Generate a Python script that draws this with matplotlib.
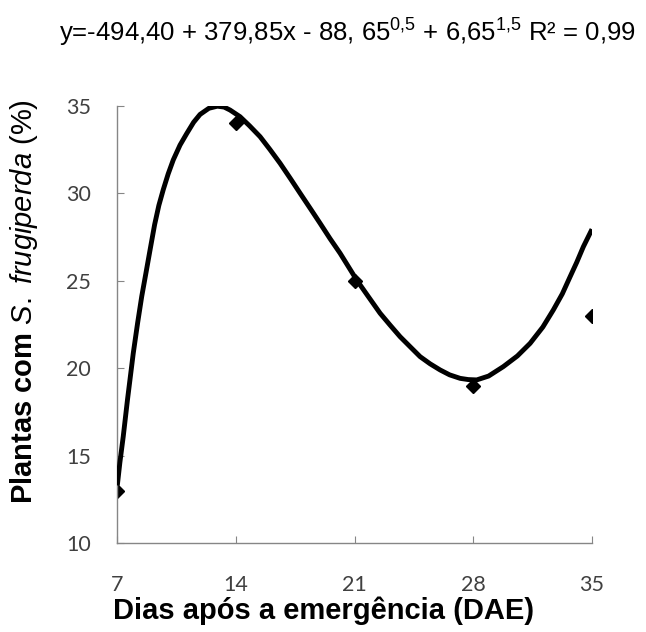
import matplotlib
matplotlib.use("Agg")
import matplotlib.pyplot as plt

plt.rcParams['mathtext.fontset'] = 'custom'
plt.rcParams['mathtext.rm'] = 'Liberation Sans'
plt.rcParams['mathtext.it'] = 'Liberation Sans:italic'
plt.rcParams['mathtext.bf'] = 'Liberation Sans:bold'

# observed points
dae = [7, 14, 21, 28, 35]
plantas = [13, 34, 25, 19, 23]

# fitted curve
curve_x = [7.0, 7.15, 7.35, 7.6, 7.94, 8.2, 8.44, 8.7, 8.93, 9.2, 9.45, 9.71, 10.0,
           10.3, 10.7, 11.09, 11.5, 11.88, 12.4, 12.9, 13.3, 13.65, 14.24, 14.8, 15.42,
           16.0, 16.6, 17.2, 17.78, 18.4, 18.96, 19.55, 20.14, 21.12, 21.8, 22.5, 23.1,
           23.68, 24.3, 24.86, 25.45, 26.04, 26.6, 27.22, 27.7, 28.2, 28.9, 29.77, 30.6,
           31.35, 32.1, 32.72, 33.25, 33.71, 34.1, 34.49, 35.0]
curve_y = [13.3, 14.6, 16.1, 18.2, 20.85, 22.6, 24.1, 25.5, 26.75, 28.2, 29.3, 30.2, 31.1,
           31.9, 32.75, 33.4, 34.05, 34.5, 34.85, 34.97, 34.92, 34.75, 34.37, 33.85, 33.23,
           32.5, 31.71, 30.85, 30.0, 29.1, 28.28, 27.4, 26.57, 25.04, 24.1, 23.14, 22.45,
           21.8, 21.2, 20.66, 20.25, 19.9, 19.62, 19.42, 19.35, 19.33, 19.55, 20.09, 20.7,
           21.42, 22.35, 23.33, 24.25, 25.23, 26.05, 26.94, 27.94]

xticks = [7, 14, 21, 28, 35]
yticks = [10, 15, 20, 25, 30, 35]

fig = plt.figure(figsize=(6.46, 6.32), dpi=100)
ax = fig.add_axes([0.1816, 0.1405, 0.7348, 0.6923])

ax.plot(dae, plantas, linestyle='none', marker='D', markersize=7, color='black', zorder=2)
ax.plot(curve_x, curve_y, color='black', linewidth=3.5, solid_capstyle='butt',
        solid_joinstyle='round', zorder=3)

ax.set_xlim(7, 35)
ax.set_ylim(10, 35)
ax.set_xticks(xticks)
ax.set_yticks(yticks)

for s in ['top', 'right']:
    ax.spines[s].set_visible(False)
for s in ['left', 'bottom']:
    ax.spines[s].set_color('#868686')
    ax.spines[s].set_linewidth(1.0)
ax.tick_params(direction='in', length=5, color='#868686', labelcolor='#404040',
               labelsize=15.5)
ax.tick_params(axis='x', pad=23)
ax.tick_params(axis='y', pad=19)
for lab in ax.get_xticklabels() + ax.get_yticklabels():
    lab.set_fontfamily('Lato')

fig.text(0.5015, 0.021, 'Dias após a emergência (DAE)', ha='center', va='baseline',
         fontsize=21, fontweight='bold', family='Liberation Sans')
fig.text(0.0495, 0.523, r'Plantas com $\mathit{S.\ frugiperda}$ $\mathrm{(\%)}$',
         rotation=90, rotation_mode='anchor', ha='center', va='baseline', fontsize=21,
         fontweight='bold', family='Liberation Sans')
fig.text(0.537, 0.934, r'y=-494,40 + 379,85x - 88, $65^{0{,}5}$ + $6{,}65^{1{,}5}$ R² = 0,99',
         ha='center', va='baseline', fontsize=18.5, family='Liberation Sans')

fig.savefig('out.png', dpi=100)
